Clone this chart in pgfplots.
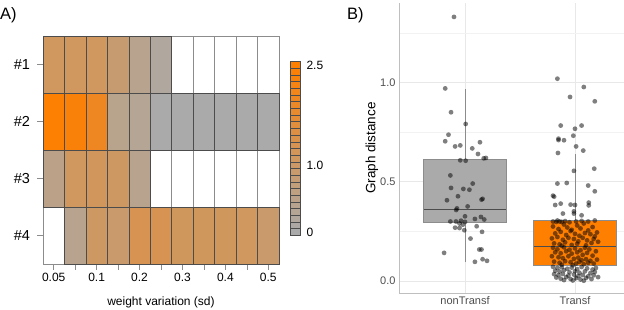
\documentclass[border=0pt]{standalone}
\usepackage{pgfplots}
\pgfplotsset{compat=1.18}
\usepgfplotslibrary{statistics}
\usepackage{fontspec}
\setmainfont{Liberation Sans}

\definecolor{boxgray}{RGB}{170,170,170}
\definecolor{boxorange}{RGB}{255,127,0}
\definecolor{ticktext}{RGB}{77,77,77}

% heat-map cell (21.45pt x 57pt) and legend cell (10pt x 6.68pt)
\pgfdeclareplotmark{hcell}{\pgfpathrectangle{\pgfpoint{-10.727pt}{-28.5pt}}{\pgfpoint{21.455pt}{57pt}}\pgfusepathqfillstroke}
\pgfdeclareplotmark{bcell}{\pgfpathrectangle{\pgfpoint{-5pt}{-3.34pt}}{\pgfpoint{10pt}{6.68pt}}\pgfusepathqfillstroke}
% filled dot without outline
\pgfdeclareplotmark{dot}{\pgfpathcircle{\pgfpoint{0pt}{0pt}}{\pgfplotmarksize}\pgfusepathqfill}

\pgfplotsset{
  /pgf/number format/assume math mode=true,
  colormap={grayorange}{rgb255(0cm)=(170,170,170); rgb255(1cm)=(255,127,0)},
}

% cells with a value: column index, row position (4 = #1 ... 1 = #4), value
\pgfplotstableread{
x y v
0 4 1.10
1 4 1.10
2 4 1.10
3 4 0.85
4 4 0.40
5 4 0.18
0 3 2.45
1 3 2.35
2 3 2.00
3 3 0.42
4 3 0.30
5 3 0
6 3 0
7 3 0
8 3 0
9 3 0
10 3 0
0 2 0.50
1 2 1.10
2 2 1.15
3 2 1.05
4 2 0.40
1 1 0.40
2 1 1.05
3 1 0.92
4 1 1.30
5 1 1.30
6 1 1.12
7 1 1.12
8 1 1.12
9 1 1.10
10 1 0.92
}\heatdata

% empty cells
\pgfplotstableread{
x y
6 4
7 4
8 4
9 4
10 4
5 2
6 2
7 2
8 2
9 2
10 2
0 1
}\emptycells

\pgfplotstableread{
x y
0.90 1.330
0.82 0.970
0.873 0.850
0.85 0.737
0.82 0.704
0.91 0.678
0.957 0.683
1.006 0.791
1.066 0.668
1.136 0.699
1.118 0.640
1.17 0.618
0.957 0.608
1.006 0.606
1.19 0.620
0.867 0.532
0.873 0.469
0.936 0.427
1.07 0.491
1.04 0.460
0.985 0.464
0.836 0.407
1.16 0.414
1.15 0.410
0.927 0.366
0.92 0.358
1.024 0.376
1.00 0.326
1.09 0.313
1.145 0.323
1.175 0.310
0.867 0.300
0.918 0.300
0.964 0.304
1.00 0.298
0.98 0.284
0.95 0.290
0.91 0.269
0.95 0.267
0.994 0.256
1.106 0.276
1.155 0.248
1.05 0.214
1.13 0.159
1.15 0.159
0.81 0.142
1.16 0.110
1.20 0.102
1.09 0.097
}\nontransf

\pgfplotstableread{
x y
1.84 1.019
2.08 0.977
1.955 0.927
2.18 0.905
1.87 0.783
2.00 0.767
2.06 0.783
1.985 0.732
1.85 0.717
1.85 0.710
1.90 0.709
2.01 0.678
2.075 0.657
1.845 0.645
1.99 0.555
2.175 0.566
1.84 0.491
1.925 0.494
2.12 0.481
2.18 0.452
1.80 0.430
1.81 0.425
1.82 0.383
1.87 0.390
1.96 0.385
2.00 0.383
2.125 0.395
2.125 0.381
1.99 0.351
1.99 0.340
1.89 0.340
2.06 0.331
1.80 0.300
1.84 0.305
1.86 0.300
1.88 0.298
1.91 0.302
1.95 0.296
2.01 0.300
2.06 0.303
2.12 0.300
2.18 0.305
1.83 0.298
1.80 0.275
1.85 0.262
1.90 0.285
1.93 0.270
1.97 0.258
2.02 0.280
2.05 0.265
2.08 0.290
2.12 0.255
2.16 0.272
2.20 0.245
1.82 0.240
1.87 0.248
1.92 0.232
1.96 0.252
2.00 0.238
2.04 0.228
2.09 0.242
2.14 0.236
2.18 0.225
1.79 0.215
1.84 0.222
1.89 0.208
1.94 0.218
1.99 0.212
2.03 0.200
2.07 0.218
2.11 0.205
2.17 0.212
2.21 0.198
1.81 0.190
1.86 0.185
1.91 0.195
1.97 0.182
2.02 0.188
2.10 0.180
2.15 0.192
1.88 0.178
1.80 0.168
1.84 0.160
1.90 0.170
1.95 0.158
2.00 0.165
2.05 0.155
2.09 0.168
2.13 0.160
2.19 0.150
1.82 0.145
1.87 0.140
1.92 0.150
1.97 0.138
2.02 0.145
2.07 0.132
2.11 0.142
2.16 0.128
1.79 0.125
1.85 0.120
1.89 0.115
1.94 0.125
1.99 0.112
2.03 0.118
2.06 0.105
2.10 0.110
2.14 0.102
2.20 0.108
1.81 0.098
1.86 0.092
1.91 0.100
1.96 0.095
2.01 0.088
2.04 0.097
2.08 0.085
2.12 0.092
2.17 0.088
1.88 0.082
1.98 0.080
1.80 0.072
1.84 0.066
1.88 0.070
1.93 0.062
1.97 0.068
2.02 0.060
2.06 0.071
2.11 0.064
2.16 0.058
2.19 0.066
1.82 0.052
1.86 0.048
1.90 0.055
1.95 0.044
2.00 0.050
2.04 0.042
2.09 0.049
2.14 0.040
2.18 0.046
1.81 0.035
1.85 0.030
1.89 0.036
1.94 0.028
1.99 0.033
2.03 0.025
2.07 0.031
2.12 0.024
2.17 0.029
2.21 0.020
1.83 0.018
1.87 0.012
1.92 0.020
1.96 0.010
2.01 0.015
2.05 0.008
2.10 0.016
2.15 0.010
1.98 0.003
2.08 0.002
1.90 0.005
}\transf

\begin{document}
\begin{tikzpicture}
\useasboundingbox (0,0) rectangle (624pt,309pt);
\begin{scope}
\clip (0,0) rectangle (624pt,309pt);

% ---------- A) heat map ----------
\begin{axis}[
  at={(43pt,45pt)}, anchor=south west,
  scale only axis, width=236pt, height=228pt,
  xmin=-0.5, xmax=10.5, ymin=0.5, ymax=4.5,
  axis line style={draw=none},
  clip=false,
  colormap name=grayorange, point meta min=0, point meta max=2.5,
  xtick={0,...,10},
  xticklabels={0.05,,0.1,,0.2,,0.3,,0.4,,0.5},
  ytick={1,2,3,4},
  yticklabels={\#4,\#3,\#2,\#1},
  xtick pos=bottom, ytick pos=left,
  tick align=outside, major tick length=5.5pt,
  tick style={black!45, line width=0.6pt},
  xticklabel style={font=\fontsize{12}{14}\selectfont},
  yticklabel style={font=\fontsize{14.5}{16}\selectfont, xshift=-4pt},
  xlabel={weight variation (sd)},
  xlabel style={font=\fontsize{12}{14}\selectfont, at={(axis description cs:0.5,0)}, anchor=center, yshift=-38.5pt},
]
\addplot[only marks, mark=hcell, mark options={draw=black!45, fill=white, line width=0.6pt}]
  table[x=x, y=y] {\emptycells};
\addplot[scatter, only marks, mark=hcell, point meta=explicit,
  mark options={line width=0.6pt},
  scatter/use mapped color={draw=black!70, fill=mapped color}]
  table[x=x, y=y, meta=v] {\heatdata};
\end{axis}

% ---------- colour key ----------
\begin{axis}[
  at={(290pt,73.66pt)}, anchor=south west,
  scale only axis, width=10pt, height=173.7pt,
  xmin=0, xmax=1, ymin=-0.05, ymax=2.55,
  axis line style={draw=none}, clip=false,
  colormap name=grayorange, point meta min=0, point meta max=2.5,
  xtick=\empty,
  ytick={0,1,2.5}, yticklabels={0,1.0,2.5},
  ytick pos=right, yticklabel pos=right,
  major tick length=0pt,
  yticklabel style={font=\fontsize{12}{14}\selectfont, anchor=west, xshift=3pt},
]
\addplot[scatter, only marks, mark=bcell, point meta=y,
  mark options={line width=0.6pt},
  scatter/use mapped color={draw=black!70, fill=mapped color}]
  coordinates {(0.5,0) (0.5,0.1) (0.5,0.2) (0.5,0.3) (0.5,0.4) (0.5,0.5)
    (0.5,0.6) (0.5,0.7) (0.5,0.8) (0.5,0.9) (0.5,1.0) (0.5,1.1) (0.5,1.2)
    (0.5,1.3) (0.5,1.4) (0.5,1.5) (0.5,1.6) (0.5,1.7) (0.5,1.8) (0.5,1.9)
    (0.5,2.0) (0.5,2.1) (0.5,2.2) (0.5,2.3) (0.5,2.4) (0.5,2.5)};
\end{axis}

% ---------- B) box plots ----------
\begin{axis}[
  at={(399pt,16pt)}, anchor=south west,
  scale only axis, width=242pt, height=290pt,
  xmin=0.4, xmax=2.6, ymin=-0.06, ymax=1.40,
  axis lines*=left,
  axis line style={-, draw=black!25, line width=0.8pt},
  xtick={1,2}, xticklabels={nonTransf,Transf},
  ytick={0,0.5,1}, yticklabels={0.0,0.5,1.0},
  minor ytick={0.25,0.75,1.25},
  grid=both,
  major grid style={draw=black!9, line width=0.6pt},
  minor grid style={draw=black!5, line width=0.5pt},
  major tick length=0pt, minor tick length=0pt,
  ticklabel style={text=ticktext, font=\fontsize{11}{13}\selectfont},
  ylabel={Graph distance},
  ylabel style={font=\fontsize{13.5}{15}\selectfont, at={(axis description cs:-0.1116,0.5)}, anchor=center},
  boxplot/draw direction=y,
]
\addplot[boxplot prepared={draw position=1, lower whisker=0.097, lower quartile=0.293,
    median=0.36, upper quartile=0.611, upper whisker=0.967, box extend=0.75,
    whisker extend=0},
  draw=black!45, line width=0.8pt,
  boxplot/every box/.style={draw=black!45, fill=boxgray},
  boxplot/every median/.style={draw=black!70, line width=1.2pt}]
  coordinates {};
\addplot[boxplot prepared={draw position=2, lower whisker=0.002, lower quartile=0.078,
    median=0.175, upper quartile=0.304, upper whisker=0.642, box extend=0.75,
    whisker extend=0},
  draw=black!45, line width=0.8pt,
  boxplot/every box/.style={draw=black!45, fill=boxorange},
  boxplot/every median/.style={draw=black!70, line width=1.2pt}]
  coordinates {};
\addplot[only marks, mark=dot, mark size=2.4pt, mark options={fill=black, fill opacity=0.5}]
  table[x=x, y=y] {\nontransf};
\addplot[only marks, mark=dot, mark size=2.4pt, mark options={fill=black, fill opacity=0.5}]
  table[x=x, y=y] {\transf};
\end{axis}

\node[anchor=west, font=\fontsize{16.5}{18}\selectfont, inner sep=0pt] at (0pt,294pt) {A)};
\node[anchor=west, font=\fontsize{16.5}{18}\selectfont, inner sep=0pt] at (347pt,294pt) {B)};
\end{scope}
\end{tikzpicture}
\end{document}
